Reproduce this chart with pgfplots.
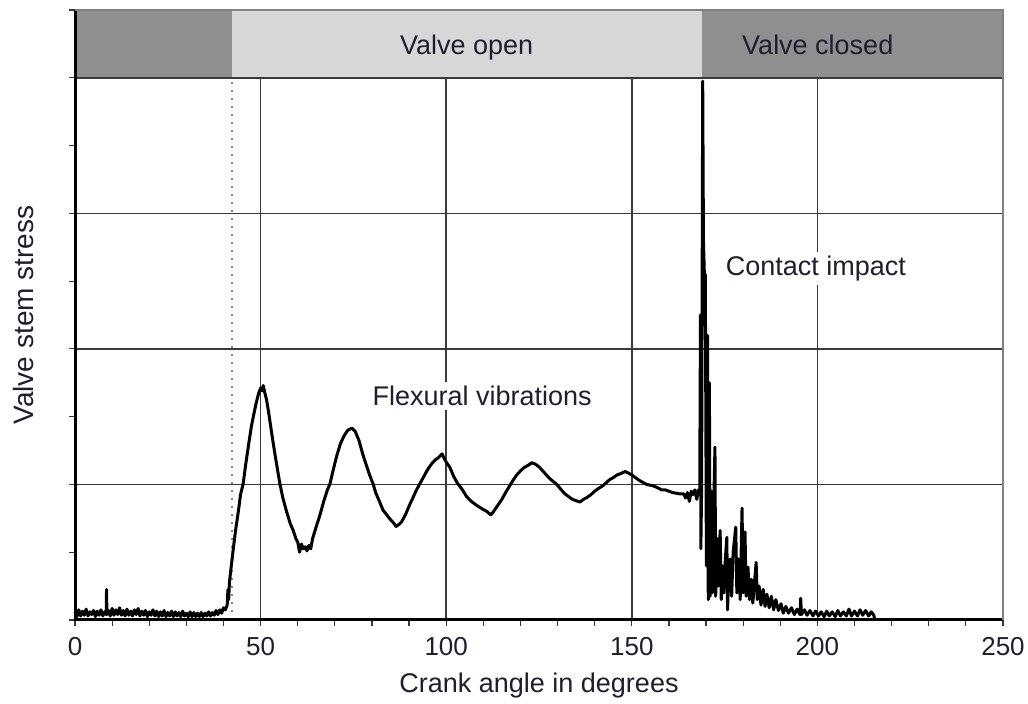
\documentclass[border=0pt]{standalone}
\usepackage{fontspec}
\setmainfont{Liberation Sans}
\usepackage{pgfplots}
\pgfplotsset{compat=1.18}
\definecolor{bandD}{HTML}{8F8F8F}
\definecolor{bandL}{HTML}{D7D7D7}
\definecolor{txt}{HTML}{1E1E30}
\definecolor{gridc}{HTML}{3A3A3A}
\begin{document}
\begin{tikzpicture}
\begin{axis}[
  scale only axis, width=464pt, height=305pt,
  xmin=0, xmax=250, ymin=0, ymax=9,
  clip=false,
  axis line style={draw=none},
  xtick={0,50,...,250}, minor xtick={10,20,...,240},
  ytick={0,...,9}, yticklabels={},
  xtick pos=bottom, ytick pos=left,
  tick align=outside,
  major tick length=3pt, minor tick length=3pt,
  tick style={gridc, line width=0.6pt},
  /pgf/number format/assume math mode=true,
  xticklabel style={font=\fontsize{13}{15}\selectfont, text=txt, yshift=-2pt},
  xlabel={Crank angle in degrees}, ylabel={Valve stem stress},
  xlabel style={font=\fontsize{13.5}{16}\selectfont, text=txt, at={(axis description cs:0.5,-0.108)}, anchor=center},
  ylabel style={font=\fontsize{14}{16}\selectfont, text=txt, at={(axis description cs:-0.055,0.5)}, anchor=center},
]
\fill[bandD] (axis cs:0,8) rectangle (axis cs:42.3,9);
\fill[bandL] (axis cs:42.3,8) rectangle (axis cs:168.9,9);
\fill[bandD] (axis cs:168.9,8) rectangle (axis cs:250,9);
\draw[gridc, line width=0.8pt] (axis cs:0,2) -- (axis cs:250,2);
\draw[gridc, line width=0.8pt] (axis cs:0,4) -- (axis cs:250,4);
\draw[gridc, line width=0.8pt] (axis cs:0,6) -- (axis cs:250,6);
\draw[gridc, line width=0.9pt] (axis cs:0,8) -- (axis cs:250,8);
\draw[gridc, line width=0.8pt] (axis cs:50,0) -- (axis cs:50,8);
\draw[gridc, line width=0.8pt] (axis cs:100,0) -- (axis cs:100,8);
\draw[gridc, line width=0.8pt] (axis cs:150,0) -- (axis cs:150,8);
\draw[gridc, line width=0.8pt] (axis cs:200,0) -- (axis cs:200,8);
\draw[gray, line width=1pt, dash pattern=on 1.2pt off 2.8pt] (axis cs:42.3,0) -- (axis cs:42.3,8);
\node[font=\fontsize{13.5}{16}\selectfont, text=txt, fill=white, inner sep=2pt, anchor=base] at (axis cs:109.7,3.16) {Flexural vibrations};
\node[font=\fontsize{13.5}{16}\selectfont, text=txt, fill=white, inner sep=2pt, anchor=base] at (axis cs:199.6,5.08) {Contact impact};
\addplot[black, line width=1.5pt, line join=round] table {
x y
0 0.12
0.5 0.05
1 0.15
1.5 0.06
2 0.13
2.5 0.07
3 0.16
3.5 0.06
4 0.12
4.5 0.08
5 0.14
5.5 0.05
6 0.13
6.5 0.07
7 0.15
7.5 0.06
8 0.12
8.4 0.08
8.5 0.45
8.6 0.08
9 0.14
9.5 0.06
10 0.17
10.5 0.07
11 0.15
11.5 0.08
12 0.18
12.5 0.07
13 0.14
13.5 0.06
14 0.16
14.5 0.07
15 0.13
15.5 0.06
16 0.15
16.5 0.08
17 0.17
17.5 0.06
18 0.13
18.5 0.07
19 0.14
19.5 0.05
20 0.12
20.5 0.07
21 0.15
21.5 0.06
22 0.13
22.5 0.05
23 0.12
23.5 0.06
24 0.14
24.5 0.05
25 0.11
25.5 0.06
26 0.13
26.5 0.05
27 0.12
27.5 0.06
28 0.11
28.5 0.05
29 0.13
29.5 0.06
30 0.10
30.5 0.05
31 0.12
31.5 0.05
32 0.11
32.5 0.05
33 0.10
33.5 0.05
34 0.11
34.5 0.05
35 0.10
35.5 0.06
36 0.12
36.5 0.06
37 0.11
37.5 0.07
38 0.14
38.5 0.08
39 0.15
39.5 0.10
40 0.18
40.5 0.15
41 0.22
41.2 0.45
41.4 0.30
41.6 0.55
42 0.75
42.6 1.03
43.2 1.30
44 1.60
44.6 1.85
45.3 2.01
46 2.30
46.8 2.60
47.5 2.85
48 2.99
48.8 3.20
49.5 3.35
50 3.42
50.4 3.38
50.7 3.46
51.1 3.36
51.6 3.25
52.2 3.05
53 2.75
54 2.40
55.2 2.01
56 1.80
57 1.60
58 1.42
58.8 1.32
59.5 1.20
60 1.15
60.5 1.00
61 1.12
61.5 1.05
62 1.08
62.5 1.02
63 1.10
63.5 1.05
64 1.20
65 1.38
66 1.55
67 1.75
68 1.92
68.7 2.01
69.5 2.20
70.5 2.42
71.5 2.60
72.5 2.72
73.5 2.80
74.6 2.83
75.5 2.78
76.5 2.65
77.5 2.45
78.5 2.28
79.5 2.12
80.3 2.01
81 1.88
82 1.75
83 1.62
84 1.55
85 1.48
86 1.42
86.5 1.38
87 1.40
87.5 1.42
88 1.45
89 1.55
90 1.68
91 1.80
92 1.92
92.9 2.01
94 2.12
95 2.22
96 2.30
97 2.36
98 2.40
98.9 2.45
99.5 2.38
100 2.33
101 2.25
102 2.12
103 2.02
104.5 1.91
105.5 1.82
107 1.74
108.5 1.68
110 1.63
111 1.60
112 1.55
112.5 1.58
113 1.62
114 1.70
115 1.78
116 1.88
117 1.97
118 2.06
119 2.14
120 2.20
121 2.25
122 2.28
123.1 2.32
124 2.30
125 2.26
126 2.20
127 2.14
128 2.08
129.8 2.00
131 1.92
132 1.86
133 1.82
134 1.78
135 1.76
136 1.74
137 1.78
138 1.81
139 1.85
140 1.90
141 1.94
142.2 1.98
143 2.02
144 2.07
145 2.10
146 2.14
147 2.16
148.2 2.19
149 2.17
150 2.14
151 2.10
152 2.06
153 2.03
154 2.00
155.7 1.98
157 1.95
158 1.92
159 1.92
160 1.90
161 1.88
162 1.87
163 1.86
164 1.86
164.5 1.80
165 1.88
165.5 1.75
166 1.90
166.5 1.85
167 1.92
167.5 1.78
168 1.92
168.3 1.88
168.5 4.50
168.6 1.05
168.8 1.90
169.1 7.95
169.3 5.60
169.6 5.00
169.8 5.10
170.1 0.80
170.4 4.20
170.6 0.30
170.9 3.50
171.1 0.35
171.4 1.90
171.7 0.40
172.0 1.50
172.4 2.55
172.6 0.35
173 1.20
173.3 0.50
173.8 1.32
174.1 0.30
174.5 0.80
174.8 0.40
175.2 0.90
175.6 1.22
175.8 0.15
176 0.50
176.5 0.90
176.9 0.35
177.3 1.00
178 1.37
178.3 0.40
178.8 0.90
179.2 0.30
179.7 1.65
180 0.40
180.5 1.30
180.8 0.35
181.3 0.78
181.7 0.30
182.2 0.60
182.6 0.25
183.5 0.85
183.8 0.30
184.3 0.50
184.8 0.22
185.4 0.45
185.9 0.20
186.4 0.38
187 0.18
187.6 0.35
188.2 0.15
188.8 0.30
189.5 0.14
190.2 0.24
190.8 0.10
191.5 0.20
192.2 0.10
193 0.18
193.8 0.08
194.5 0.16
195.3 0.08
195.5 0.32
195.7 0.08
196.5 0.15
197.2 0.07
198 0.14
198.8 0.06
199.5 0.13
200.3 0.06
201 0.12
201.8 0.05
202.5 0.13
203.2 0.06
204 0.12
204.8 0.05
205.5 0.14
206.2 0.06
207 0.12
207.8 0.06
208.5 0.16
209.2 0.06
210 0.13
210.8 0.06
211.5 0.15
212.2 0.07
213 0.14
213.8 0.06
214.5 0.12
215.2 0.07
215.5 0.00
};
\draw[black, line width=1.5pt] (axis cs:0,9) -- (axis cs:0,0) -- (axis cs:250,0);
\draw[gray, line width=0.8pt] (axis cs:0,9) -- (axis cs:250,9) -- (axis cs:250,0);
\node[font=\fontsize{13.5}{16}\selectfont, text=txt, anchor=base] at (axis cs:105.5,8.35) {Valve open};
\node[font=\fontsize{13.5}{16}\selectfont, text=txt, anchor=base] at (axis cs:200.1,8.35) {Valve closed};
\end{axis}
\pgfresetboundingbox
\path[use as bounding box] ([shift={(-37.5pt,-42pt)}]current axis.south west) rectangle ([shift={(12.5pt,5pt)}]current axis.north east);
\end{tikzpicture}
\end{document}
